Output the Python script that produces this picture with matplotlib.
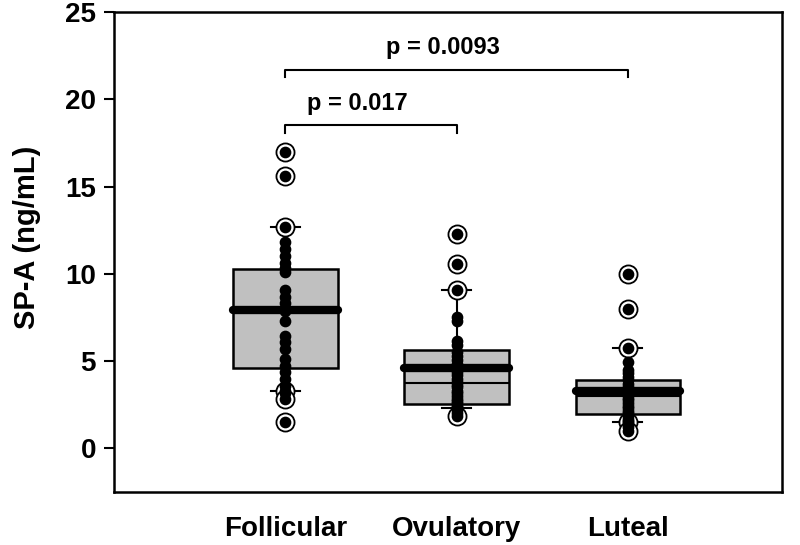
import matplotlib
matplotlib.use('Agg')
import matplotlib.pyplot as plt

plt.rcParams['font.family'] = 'Liberation Sans'
plt.rcParams['font.weight'] = 'bold'

groups = ['Follicular', 'Ovulatory', 'Luteal']
positions = [1, 2, 3]

# box statistics
q1s = [4.6, 2.55, 1.97]
q3s = [10.3, 5.65, 3.93]
medians = [7.9, 3.72, 3.02]
means = [7.9, 4.58, 3.30]
whis_lo = [3.3, 2.33, 1.5]
whis_hi = [12.7, 9.06, 5.73]

# individual samples (black dots)
foll_pts = [17.0, 15.6, 12.7, 11.8, 11.4, 11.0, 10.6, 10.35, 10.1, 9.1, 8.7, 8.35, 7.87, 7.3,
            6.45, 6.07, 5.7, 5.1, 4.7, 4.35, 3.97, 3.6, 3.3, 3.2, 2.85, 1.5]
ovul_pts = [12.26, 10.58, 9.06, 7.5, 7.3, 6.15, 5.95, 5.5, 5.3, 5.05, 4.85, 4.6, 4.4, 4.2, 4.0,
            3.8, 3.65, 3.5, 3.3, 3.15, 3.0, 2.85, 2.7, 2.6, 2.45, 2.35, 2.2, 2.05, 1.86]
lut_pts = [10.0, 7.97, 5.73, 4.93, 4.5, 4.3, 4.1, 3.9, 3.7, 3.5, 3.35, 3.2, 3.05, 2.9, 2.75,
           2.6, 2.45, 2.3, 2.15, 2.0, 1.85, 1.7, 1.55, 1.5, 1.35, 1.2, 1.0]

# points drawn with the outlier ring
foll_out = [17.0, 15.6, 12.7, 3.3, 2.85, 1.5]
ovul_out = [12.26, 10.58, 9.06, 1.86]
lut_out = [10.0, 7.97, 5.73, 1.5, 1.0]

points = [foll_pts, ovul_pts, lut_pts]
outliers = [foll_out, ovul_out, lut_out]

# significance brackets
brackets = [(1, 2, 18.5, 'p = 0.017'), (1, 3, 21.7, 'p = 0.0093')]

fig = plt.figure(figsize=(8, 5.45), dpi=100)
ax = fig.add_axes([0.1425, 0.0972, 0.835, 0.8808])

stats = []
for i in range(3):
    stats.append({'q1': q1s[i], 'q3': q3s[i], 'med': medians[i], 'mean': means[i],
                  'whislo': whis_lo[i], 'whishi': whis_hi[i], 'fliers': []})

ax.bxp(stats, positions=positions, widths=0.61, patch_artist=True, showmeans=True,
       meanline=True, showfliers=False,
       boxprops=dict(facecolor='#c0c0c0', edgecolor='black', linewidth=1.8),
       medianprops=dict(color='black', linewidth=1.5),
       meanprops=dict(color='black', linestyle='-', linewidth=6, solid_capstyle='round'),
       whiskerprops=dict(color='black', linewidth=1.5),
       capprops=dict(color='black', linewidth=1.5), capwidths=0.17, zorder=2)

for i, pos in enumerate(positions):
    ax.scatter([pos] * len(outliers[i]), outliers[i], s=170, facecolor='white',
               edgecolor='black', linewidth=1.3, zorder=3)
    ax.scatter([pos] * len(points[i]), points[i], s=55, color='black', zorder=4)

for x1, x2, y, label in brackets:
    ax.plot([x1, x1, x2, x2], [y - 0.45, y, y, y - 0.45], color='black', lw=1.5)
    ax.text((x1 + x2) / 2 - 0.08, y + 0.6, label, ha='center', va='bottom', fontsize=17,
            fontweight='bold')

ax.set_xlim(0, 3.9)
ax.set_ylim(-2.5, 25)
ax.set_yticks([0, 5, 10, 15, 20, 25])
ax.set_xticks(positions)
ax.set_xticklabels(groups)
ax.tick_params(axis='x', length=0, pad=17, labelsize=20)
ax.tick_params(axis='y', length=7, width=1.5, direction='out', labelsize=20, pad=6)
ax.set_ylabel('SP-A (ng/mL)', fontsize=21, fontweight='bold')
ax.yaxis.set_label_coords(-0.11, 0.53)
for sp in ax.spines.values():
    sp.set_linewidth(1.8)

fig.savefig('out.png', dpi=100)
